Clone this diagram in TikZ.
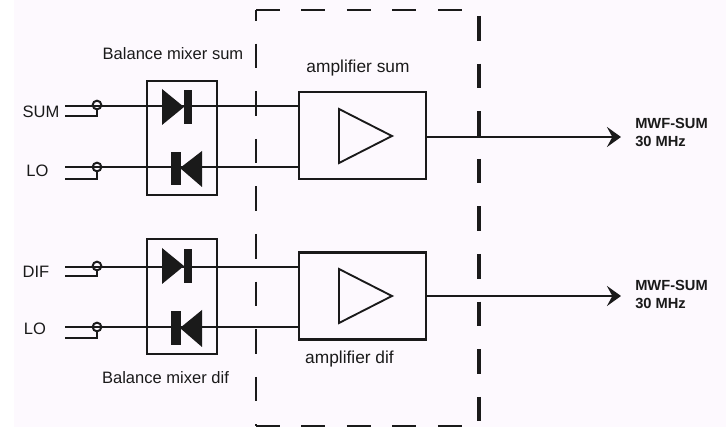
\documentclass[tikz,border=0pt]{standalone}
\usepackage{fontspec}
\setmainfont{Liberation Sans}
\usetikzlibrary{arrows.meta, positioning}
\definecolor{paper}{HTML}{FDF9FE}
\definecolor{ink}{HTML}{1A1A1A}

\begin{document}
\begin{tikzpicture}[x=0.75pt, y=-0.75pt, line join=miter,
    box/.style={draw=ink, line width=1.8pt, inner sep=0pt, minimum width=#1},
    wire/.style={draw=ink, line width=2pt},
    dashline/.style={draw=ink, line width=#1},
    term/.style={draw=ink, line width=1.5pt, circle, inner sep=0pt, minimum size=6.5pt},
    lbl/.style={text=ink, font=\fontsize{12.4}{14}\selectfont, inner sep=0pt},
    amplbl/.style={text=ink, font=\fontsize{13}{15}\selectfont, inner sep=0pt},
    outlbl/.style={text=ink, align=left, anchor=west, font=\fontsize{11}{13.5}\selectfont\bfseries, inner sep=0pt}]
    \useasboundingbox (0,0) rectangle (726,427);
    \fill[white] (0,0) rectangle (726,427);
    \fill[paper] (14,0) rectangle (726,427);

    % Amplifier region
    \coordinate (tl) at (256,10);
    \coordinate (tr) at (479,10);
    \coordinate (bl) at (256,426);
    \coordinate (br) at (479,426);
    \draw[dashline=2.2pt, dash pattern=on 18pt off 16.1pt] (tl) -- (tr);
    \draw[dashline=2.2pt, dash pattern=on 18pt off 16.1pt] (bl) -- (br);
    \draw[dashline=1.7pt, dash pattern=on 18.45pt off 17.25pt, dash phase=10.5pt] (tl) -- (bl);
    \draw[dashline=2.6pt, dash pattern=on 18.45pt off 17.25pt, dash phase=31.2pt] (tr) -- (br);

    % Mixers
    \node[box=52.5pt, minimum height=85.5pt] (mixsum) at (182,138) {};
    \node[box=52.5pt, minimum height=86pt] (mixdif) at (182,296.5) {};
    \node[lbl] (mixsumlbl) at (173,54) {Balance mixer sum};
    \node[lbl] (mixdiflbl) at (165.5,378) {Balance mixer dif};

    % Amplifiers
    \node[box=95.25pt, minimum height=65.25pt] (ampsum) at (362.5,135.5) {};
    \node[box=95.25pt, minimum height=65.25pt] (ampdif) at (362.5,296) {};
    \node[amplbl] (ampsumlbl) at (358,68) {amplifier sum};
    \node[amplbl] (ampdiflbl) at (349.5,359) {amplifier dif};
    \draw[ink, line width=1.4pt] (339,109) -- (392,136) -- (339,163) -- cycle;
    \draw[ink, line width=1.4pt] (339,269) -- (392,296) -- (339,323) -- cycle;

    % Inputs
    \node[lbl] (sumlbl) at (41,112) {SUM};
    \node[lbl] (lo1lbl) at (37.5,171) {LO};
    \node[lbl] (diflbl) at (36,272) {DIF};
    \node[lbl] (lo2lbl) at (35,329) {LO};
    \node[term] (t1) at (97,105) {};
    \node[term] (t2) at (97,167) {};
    \node[term] (t3) at (97,266) {};
    \node[term] (t4) at (97,327) {};
    \coordinate (in1) at (65,106);
    \coordinate (in2) at (65,167);
    \coordinate (in3) at (65,267);
    \coordinate (in4) at (65,327);

    % Connections
    \draw[wire] (in1) -- (ampsum.west |- in1);
    \draw[wire] (in2) -- (ampsum.west |- in2);
    \draw[wire] (in3) -- (ampdif.west |- in3);
    \draw[wire] (in4) -- (ampdif.west |- in4);
    \draw[wire] (65,116) -| (t1.south);
    \draw[wire] (65,179) -| (t2.south);
    \draw[wire] (65,276) -| (t3.south);
    \draw[wire] (65,338) -| (t4.south);

    % Diodes
    \fill[ink] (162,89) -- (184,107) -- (162,125) -- cycle;
    \fill[ink] (183.5,90) rectangle (192,124);
    \fill[ink] (202,151) -- (180,168) -- (202,187) -- cycle;
    \fill[ink] (171,152) rectangle (180.5,185);
    \fill[ink] (162,248) -- (184,266) -- (162,284) -- cycle;
    \fill[ink] (183.5,249) rectangle (192,283);
    \fill[ink] (202,310) -- (180,328) -- (202,347) -- cycle;
    \fill[ink] (171,311) rectangle (180.5,345);

    % Outputs
    \node[outlbl] (outsum) at (635,132.5) {MWF-SUM\\30 MHz};
    \node[outlbl] (outdif) at (635,294.5) {MWF-SUM\\30 MHz};
    \coordinate (end1) at (621,137);
    \coordinate (end2) at (621,296);
    \draw[wire, -{Stealth[length=10.5pt, width=15pt, inset=4pt]}] (ampsum.east |- end1) -- (end1);
    \draw[wire, -{Stealth[length=10.5pt, width=15pt, inset=4pt]}] (ampdif.east |- end2) -- (end2);
\end{tikzpicture}
\end{document}
